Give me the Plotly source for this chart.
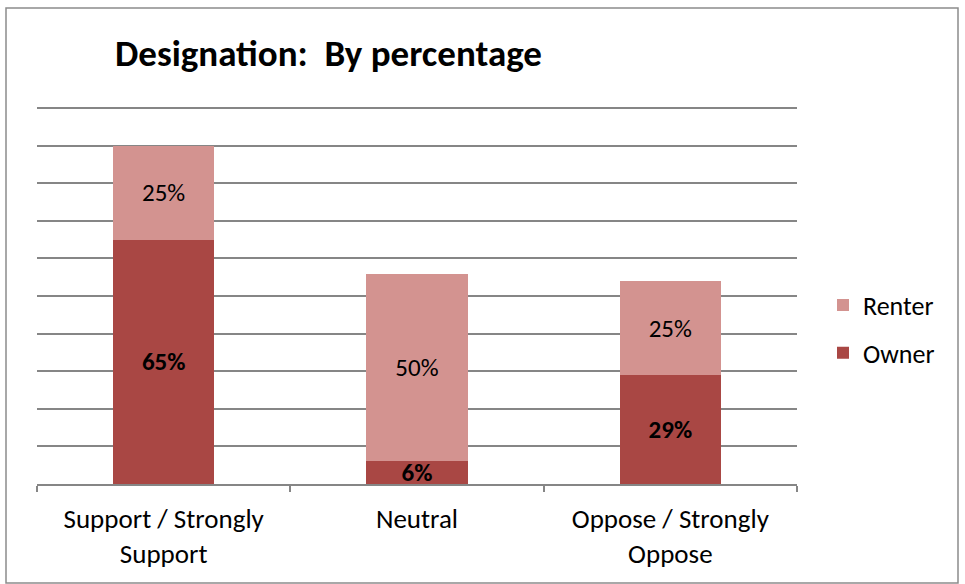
import plotly.graph_objects as go

categories = ["Support / Strongly<br>Support", "Neutral", "Oppose / Strongly<br>Oppose"]
owner = [65, 6, 29]
renter = [25, 50, 25]
owner_labels = ["65%", "6%", "29%"]
renter_labels = ["25%", "50%", "25%"]

FONT = "Carlito, Lato, sans-serif"
W, H = 965, 584
L, R, T, B = 37, 797, 107, 484

fig = go.Figure()
fig.add_trace(go.Bar(
    x=categories, y=owner, name="Owner", legendgroup="o", legendrank=2,
    marker=dict(color="#A94744", line=dict(width=0)),
    text=owner_labels, textposition="inside", insidetextanchor="middle",
    texttemplate="<b>%{text}</b>", textangle=0, constraintext="none",
    textfont=dict(family=FONT, size=25, color="black"),
))
fig.add_trace(go.Bar(
    x=categories, y=renter, name="Renter", legendgroup="r", legendrank=1,
    marker=dict(color="#D39390", line=dict(width=0)),
    text=renter_labels, textposition="inside", insidetextanchor="middle", textangle=0,
    constraintext="none",
    textfont=dict(family=FONT, size=25, color="black"),
))

def px(x):
    return (x - L) / (R - L)

def py(y):
    return (B - y) / (B - T)

fig.update_layout(
    width=W, height=H,
    margin=dict(l=L, r=W - R, t=T, b=H - B),
    barmode="stack", bargap=0.6,
    plot_bgcolor="white", paper_bgcolor="white",
    font=dict(family=FONT, size=26, color="black"),
    title=dict(text="<b>Designation:  By percentage</b>", x=115 / W, xanchor="left",
               xref="container", y=1 - 53 / H, yanchor="middle", yref="container",
               font=dict(family=FONT, size=37, color="black")),
    legend=dict(x=px(823), y=py(329), xanchor="left", yanchor="middle",
                traceorder="grouped", tracegroupgap=11,
                font=dict(family=FONT, size=26), itemwidth=30),
    shapes=[dict(type="rect", xref="paper", yref="paper",
                 x0=px(6), x1=px(958), y0=py(583), y1=py(8),
                 line=dict(color="#8C8C8C", width=1.5), fillcolor="rgba(0,0,0,0)", layer="below")],
)
fig.update_xaxes(showline=True, linecolor="#868686", linewidth=1.5,
                 ticks="outside", tickson="boundaries", ticklen=6, tickcolor="#868686",
                 tickwidth=1.5, tickfont=dict(family=FONT, size=27), showgrid=False,
                 ticklabelstandoff=10)
fig.update_yaxes(range=[0, 100.3], dtick=10, showgrid=True, gridcolor="#868686", gridwidth=1.5,
                 showticklabels=False, zeroline=False, showline=False, ticks="")

fig.write_html("out.html", config={"displayModeBar": False},
               post_script="document.body.style.margin='0';")
